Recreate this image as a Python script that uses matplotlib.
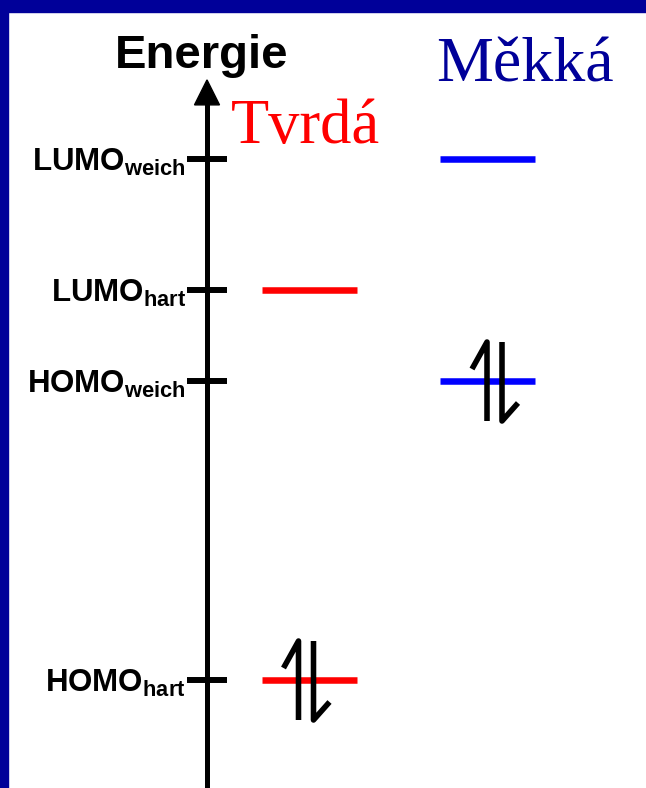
import matplotlib
matplotlib.use("Agg")
import matplotlib.pyplot as plt
from matplotlib.patches import Rectangle

# Orbital energies (arbitrary units)
level_names = ["LUMO", "LUMO", "HOMO", "HOMO"]
level_subs = ["weich", "hart", "weich", "hart"]
level_energy = [10.02, 7.5, 5.75, 0.0]

# Which column each level sits in: 1 = Tvrdá (hard), 2 = Měkká (soft)
column_names = ["Tvrdá", "Měkká"]
level_column = [2, 1, 2, 1]
level_filled = [False, False, True, True]

# colours
NAVY = "#000099"
col_line = {1: "#ff0000", 2: "#0000ff"}

plt.rcParams["font.family"] = ["Liberation Sans", "DejaVu Sans"]
plt.rcParams["mathtext.fontset"] = "custom"
plt.rcParams["mathtext.rm"] = "Liberation Sans:bold"
plt.rcParams["mathtext.bf"] = "Liberation Sans:bold"
plt.rcParams["mathtext.it"] = "Liberation Sans:bold"

W, H = 646, 788
fig = plt.figure(figsize=(W / 100, H / 100), dpi=100)
ax = fig.add_axes([0, 0, 1, 1])
ax.set_xlim(-131 / 178.5, (W - 131) / 178.5)
ax.set_ylim((680 - H) / 52, 680 / 52)
ax.axis("off")

# pixel -> data step sizes
PX = 1 / 178.5
PY = 1 / 52

axis_x = 0.4258

# energy axis with arrow head
ax.plot([axis_x, axis_x], [-3, 11.1], color="black", lw=3.6, solid_capstyle="butt")
ax.fill([axis_x - 12.5 * PX, axis_x, axis_x + 12.5 * PX],
        [11.06, 11.54, 11.06], color="black")
ax.text(axis_x - 5 * PX, 11.77, "Energie", fontsize=34, fontweight="bold",
        ha="center", va="baseline", color="black")

# ticks + labels
for name, sub, e in zip(level_names, level_subs, level_energy):
    ax.plot([axis_x - 20 * PX, axis_x + 20 * PX], [e, e], color="black",
            lw=4.3, solid_capstyle="butt")
    ax.text(0.308, e - 3 * PY, name + r"$_{\mathrm{" + sub + "}}$",
            fontsize=22.5, fontweight="bold", ha="right", va="center")

# orbital levels
half = 47.5 * PX
spin_shift = {1: -11, 2: -1}
for col, e, filled in zip(level_column, level_energy, level_filled):
    ax.plot([col - half, col + half], [e, e], color=col_line[col], lw=4.7,
            solid_capstyle="butt", zorder=2)
    if filled:
        xu = col + spin_shift[col] * PX
        xd = xu + 15 * PX
        top = e + 39 * PY
        bot = e - 40 * PY
        # spin up
        ax.plot([xu - 15 * PX, xu, xu], [top - 27 * PY, top, bot],
                color="black", lw=4, solid_joinstyle="round",
                solid_capstyle="butt", zorder=3)
        # spin down
        ax.plot([xd, xd, xd + 16 * PX], [top, bot, bot + 18 * PY],
                color="black", lw=4, solid_joinstyle="round",
                solid_capstyle="butt", zorder=3)

# column titles
ax.text(231 * PX - 131 * PX, 10.33, column_names[0], fontsize=45,
        family="Liberation Serif", color="#ff0000", ha="left", va="baseline")
ax.text(436 * PX - 131 * PX, 11.5, column_names[1], fontsize=46,
        family="Liberation Serif", color=NAVY, ha="left", va="baseline")

# slide border (top and left)
fig.patches.append(Rectangle((0, 1 - 12 / H), 1, 12 / H, transform=fig.transFigure,
                             color=NAVY, zorder=10))
fig.patches.append(Rectangle((0, 0), 8 / W, 1, transform=fig.transFigure,
                             color=NAVY, zorder=10))

fig.savefig("out.png", dpi=100)
